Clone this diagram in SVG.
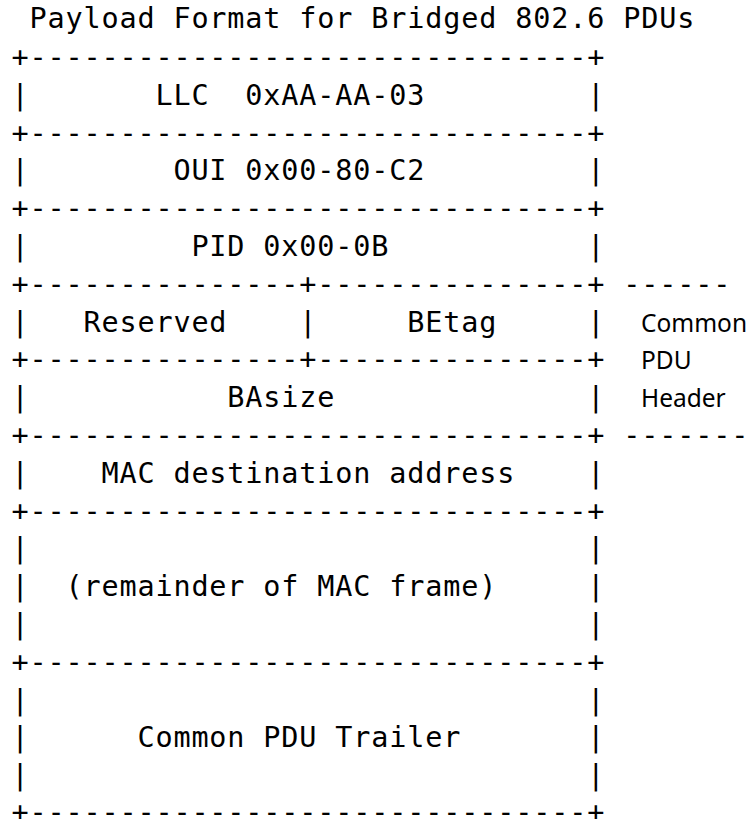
<svg xmlns="http://www.w3.org/2000/svg" width="750" height="819" viewBox="0 0 750 819">
<style>
.m{font-family:"DejaVu Sans Mono","Liberation Mono",monospace;font-size:28.5px;letter-spacing:0.84px;fill:#000;white-space:pre}
.p{font-family:"Noto Sans","DejaVu Sans",sans-serif;font-size:24.5px;fill:#000}
</style>
<rect width="750" height="819" fill="#fff"/>
<g id="title"><text class="m" x="11.4" y="28" xml:space="preserve"> Payload Format for Bridged 802.6 PDUs</text></g>
<g id="connectors">
<text class="m" x="11.4" y="67" xml:space="preserve">+-------------------------------+</text>
<text class="m" x="11.4" y="142.6" xml:space="preserve">+-------------------------------+</text>
<text class="m" x="11.4" y="218.2" xml:space="preserve">+-------------------------------+</text>
<text class="m" x="11.4" y="293.8" xml:space="preserve">+---------------+---------------+ ------</text>
<text class="m" x="11.4" y="369.4" xml:space="preserve">+---------------+---------------+</text>
<text class="m" x="11.4" y="445" xml:space="preserve">+-------------------------------+ -------</text>
<text class="m" x="11.4" y="520.6" xml:space="preserve">+-------------------------------+</text>
<text class="m" x="11.4" y="671.8" xml:space="preserve">+-------------------------------+</text>
<text class="m" x="11.4" y="822" xml:space="preserve">+-------------------------------+</text>
</g>
<g id="llc"><text class="m" x="11.4" y="104.8" xml:space="preserve">|       LLC  0xAA-AA-03         |</text></g>
<g id="oui"><text class="m" x="11.4" y="180.4" xml:space="preserve">|        OUI 0x00-80-C2         |</text></g>
<g id="pid"><text class="m" x="11.4" y="256" xml:space="preserve">|         PID 0x00-0B           |</text></g>
<g id="reserved-betag"><text class="m" x="11.4" y="331.6" xml:space="preserve">|   Reserved    |     BEtag     |</text></g>
<g id="basize"><text class="m" x="11.4" y="407.2" xml:space="preserve">|           BAsize              |</text></g>
<g id="header-label">
<text class="p" x="641" y="331.6">Common</text>
<text class="p" x="641" y="369.4">PDU</text>
<text class="p" x="641" y="407.2">Header</text>
</g>
<g id="mac-dest"><text class="m" x="11.4" y="482.8" xml:space="preserve">|    MAC destination address    |</text></g>
<g id="remainder">
<text class="m" x="11.4" y="558.4" xml:space="preserve">|                               |</text>
<text class="m" x="11.4" y="596.2" xml:space="preserve">|  (remainder of MAC frame)     |</text>
<text class="m" x="11.4" y="634" xml:space="preserve">|                               |</text>
</g>
<g id="trailer">
<text class="m" x="11.4" y="709.6" xml:space="preserve">|                               |</text>
<text class="m" x="11.4" y="747.4" xml:space="preserve">|      Common PDU Trailer       |</text>
<text class="m" x="11.4" y="785.2" xml:space="preserve">|                               |</text>
</g>
</svg>
